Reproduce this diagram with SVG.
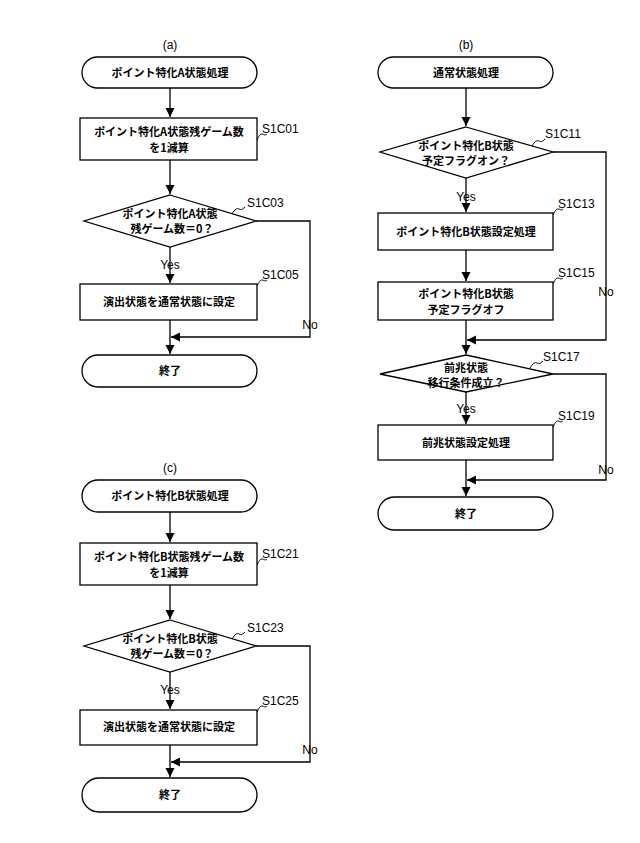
<svg xmlns="http://www.w3.org/2000/svg" width="640" height="843" viewBox="0 0 640 843">
<style>
.s{fill:#fff;stroke:#000;stroke-width:1.3}
.l{fill:none;stroke:#000;stroke-width:1.3}
.w{fill:none;stroke:#000;stroke-width:1}
text{font-family:"Noto Sans CJK JP","Liberation Sans",sans-serif;font-size:11px;font-weight:bold;text-anchor:middle;fill:#000}
.lb{font-family:"Liberation Sans",sans-serif;font-weight:normal;font-size:12px;text-anchor:start}
.t{font-family:"Liberation Sans",sans-serif;font-weight:normal;font-size:12px}
</style>
<defs><marker id="a" viewBox="0 0 10 10" refX="10" refY="5" markerWidth="7" markerHeight="7" orient="auto"><path d="M0,0L10,5L0,10z"/></marker></defs>
<rect width="640" height="843" fill="#fff"/>
<g id="connectors" class="l">
<path d="M170,88V117" marker-end="url(#a)"/>
<path d="M170,160V194" marker-end="url(#a)"/>
<path d="M170,247V283" marker-end="url(#a)"/>
<path d="M170,320V354" marker-end="url(#a)"/>
<path d="M256,221H310V337H171" marker-end="url(#a)"/>
<path d="M466,88V126" marker-end="url(#a)"/>
<path d="M466,178V212" marker-end="url(#a)"/>
<path d="M466,250V281" marker-end="url(#a)"/>
<path d="M466,320V354" marker-end="url(#a)"/>
<path d="M553,152H606V340H467" marker-end="url(#a)"/>
<path d="M466,392V424" marker-end="url(#a)"/>
<path d="M466,460V496" marker-end="url(#a)"/>
<path d="M553,374H606V480H467" marker-end="url(#a)"/>
<path d="M170,512V542" marker-end="url(#a)"/>
<path d="M170,585V619" marker-end="url(#a)"/>
<path d="M170,672V709" marker-end="url(#a)"/>
<path d="M170,745V777" marker-end="url(#a)"/>
<path d="M256,646H310V762H171" marker-end="url(#a)"/>
</g>
<g id="leaders" class="w">
<path d="M257,140c2,-4 3,-6 5,-6s3,2 5,0"/>
<path d="M232,214c3,-5 5,-6 7,-5s3,1 6,-2"/>
<path d="M257,286c2,-4 3,-6 5,-6s3,2 5,0"/>
<path d="M532,146c3,-5 5,-6 7,-5s3,1 6,-2"/>
<path d="M553,215c2,-4 3,-6 5,-6s3,2 5,0"/>
<path d="M553,284c2,-4 3,-6 5,-6s3,2 5,0"/>
<path d="M530,368c3,-5 5,-6 7,-5s3,1 6,-2"/>
<path d="M553,427c2,-4 3,-6 5,-6s3,2 5,0"/>
<path d="M257,565c2,-4 3,-6 5,-6s3,2 5,0"/>
<path d="M232,639c3,-5 5,-6 7,-5s3,1 6,-2"/>
<path d="M257,712c2,-4 3,-6 5,-6s3,2 5,0"/>
</g>
<text class="t" x="170" y="49">(a)</text>
<g id="a1"><rect class="s" x="82" y="57" width="175" height="31" rx="15.5"/><text x="170" y="77">ポイント特化A状態処理</text></g>
<g id="a2"><rect class="s" x="80" y="118" width="177" height="42"/><text x="169" y="136">ポイント特化A状態残ゲーム数</text><text x="169" y="152">を1減算</text><text class="lb" x="262" y="133">S1C01</text></g>
<g id="a3"><path class="s" d="M170,195L256,221L170,247L84,221z"/><text x="170" y="218">ポイント特化A状態</text><text x="172" y="233">残ゲーム数＝0？</text><text class="lb" x="247" y="207">S1C03</text></g>
<text class="t" x="170" y="269">Yes</text>
<g id="a4"><rect class="s" x="80" y="284" width="177" height="36"/><text x="169" y="306">演出状態を通常状態に設定</text><text class="lb" x="262" y="279">S1C05</text></g>
<text class="t" x="310" y="329">No</text>
<g id="a5"><rect class="s" x="82" y="355" width="175" height="32" rx="16"/><text x="170" y="375">終了</text></g>

<text class="t" x="466" y="49">(b)</text>
<g id="b1"><rect class="s" x="378" y="57" width="175" height="31" rx="15.5"/><text x="466" y="77">通常状態処理</text></g>
<g id="b2"><path class="s" d="M466,127L553,152L466,178L380,152z"/><text x="466" y="150">ポイント特化B状態</text><text x="466" y="165">予定フラグオン？</text><text class="lb" x="545" y="138">S1C11</text></g>
<text class="t" x="466" y="201">Yes</text>
<g id="b3"><rect class="s" x="378" y="213" width="175" height="37"/><text x="466" y="236">ポイント特化B状態設定処理</text><text class="lb" x="558" y="208">S1C13</text></g>
<g id="b4"><rect class="s" x="378" y="282" width="175" height="38"/><text x="466" y="298">ポイント特化B状態</text><text x="466" y="314">予定フラグオフ</text><text class="lb" x="558" y="277">S1C15</text></g>
<text class="t" x="606" y="296">No</text>
<g id="b5"><path class="s" d="M466,355L553,374L466,392L380,374z"/><text x="466" y="372">前兆状態</text><text x="466" y="387">移行条件成立？</text><text class="lb" x="543" y="361">S1C17</text></g>
<text class="t" x="466" y="413">Yes</text>
<g id="b6"><rect class="s" x="378" y="425" width="175" height="35"/><text x="466" y="447">前兆状態設定処理</text><text class="lb" x="558" y="420">S1C19</text></g>
<text class="t" x="606" y="474">No</text>
<g id="b7"><rect class="s" x="378" y="497" width="175" height="33" rx="16.5"/><text x="466" y="518">終了</text></g>

<text class="t" x="170" y="472">(c)</text>
<g id="c1"><rect class="s" x="82" y="480" width="175" height="32" rx="16"/><text x="170" y="500">ポイント特化B状態処理</text></g>
<g id="c2"><rect class="s" x="80" y="543" width="177" height="42"/><text x="169" y="561">ポイント特化B状態残ゲーム数</text><text x="169" y="577">を1減算</text><text class="lb" x="262" y="558">S1C21</text></g>
<g id="c3"><path class="s" d="M170,620L256,646L170,672L84,646z"/><text x="170" y="643">ポイント特化B状態</text><text x="172" y="658">残ゲーム数＝0？</text><text class="lb" x="247" y="632">S1C23</text></g>
<text class="t" x="170" y="694">Yes</text>
<g id="c4"><rect class="s" x="80" y="710" width="177" height="35"/><text x="169" y="731">演出状態を通常状態に設定</text><text class="lb" x="262" y="705">S1C25</text></g>
<text class="t" x="310" y="754">No</text>
<g id="c5"><rect class="s" x="82" y="778" width="175" height="34" rx="17"/><text x="170" y="799">終了</text></g>
</svg>
